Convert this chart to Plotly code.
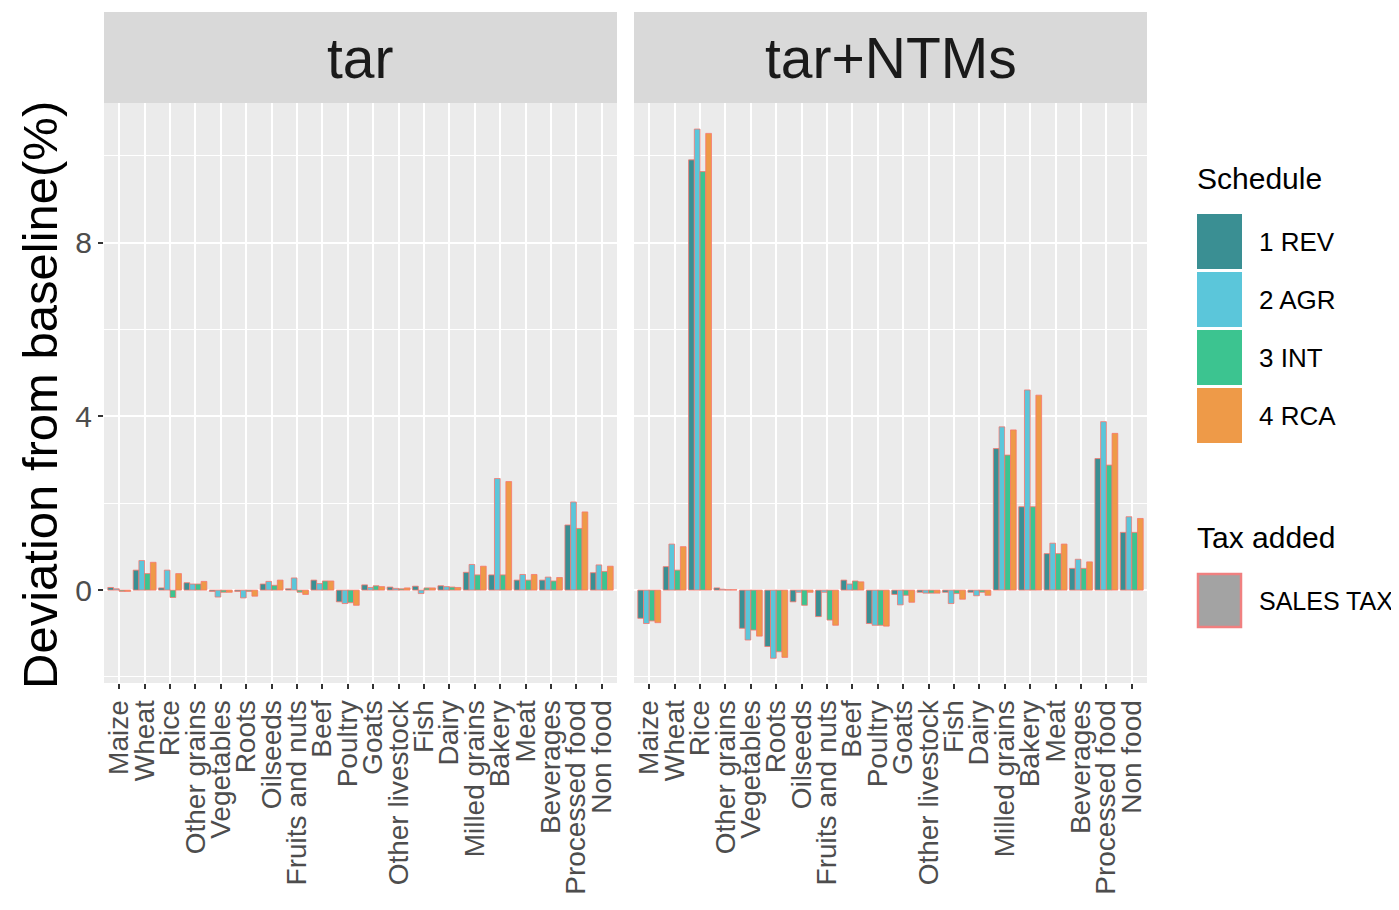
import plotly.graph_objects as go

# The page body has an 8px margin, so the figure is sized to the visible area
OFF = 8
W, H = 1399 - OFF, 910 - OFF

categories = ["Maize", "Wheat", "Rice", "Other grains", "Vegetables", "Roots", "Oilseeds",
              "Fruits and nuts", "Beef", "Poultry", "Goats", "Other livestock", "Fish", "Dairy",
              "Milled grains", "Bakery", "Meat", "Beverages", "Processed food", "Non food"]

schedules = ["1 REV", "2 AGR", "3 INT", "4 RCA"]
schedule_colors = ["#3A8F93", "#5BC6DA", "#3CC490", "#EE9A48"]
panels = ["tar", "tar+NTMs"]
tax_label = "SALES TAX"

# panel "tar"
tar_rev = [0.06, 0.46, 0.05, 0.17, -0.03, -0.03, 0.14, 0.03, 0.23, -0.27, 0.12, 0.07, 0.09, 0.10, 0.41, 0.35, 0.23, 0.23, 1.50, 0.40]
tar_agr = [0.03, 0.68, 0.46, 0.14, -0.16, -0.18, 0.20, 0.28, 0.15, -0.31, 0.06, 0.04, -0.08, 0.08, 0.59, 2.57, 0.36, 0.30, 2.03, 0.58]
tar_int = [-0.03, 0.38, -0.17, 0.14, -0.05, -0.03, 0.11, -0.05, 0.21, -0.29, 0.10, 0.03, 0.05, 0.07, 0.35, 0.35, 0.23, 0.21, 1.42, 0.43]
tar_rca = [-0.03, 0.64, 0.38, 0.20, -0.05, -0.14, 0.23, -0.10, 0.21, -0.35, 0.08, 0.05, 0.05, 0.06, 0.55, 2.50, 0.36, 0.29, 1.80, 0.55]

# panel "tar+NTMs"
ntm_rev = [-0.65, 0.54, 9.91, 0.05, -0.88, -1.30, -0.27, -0.61, 0.23, -0.77, -0.10, -0.05, -0.05, -0.05, 3.26, 1.92, 0.84, 0.50, 3.03, 1.33]
ntm_agr = [-0.77, 1.06, 10.62, 0.02, -1.15, -1.57, -0.05, -0.05, 0.14, -0.81, -0.34, -0.07, -0.31, -0.13, 3.76, 4.61, 1.08, 0.71, 3.88, 1.69]
ntm_int = [-0.71, 0.46, 9.64, 0.01, -0.92, -1.42, -0.35, -0.69, 0.21, -0.81, -0.12, -0.07, -0.08, -0.05, 3.11, 1.92, 0.84, 0.50, 2.88, 1.33]
ntm_rca = [-0.75, 1.00, 10.52, 0.01, -1.06, -1.55, -0.05, -0.81, 0.19, -0.83, -0.28, -0.07, -0.21, -0.12, 3.69, 4.49, 1.06, 0.65, 3.61, 1.65]

panel_data = [[tar_rev, tar_agr, tar_int, tar_rca], [ntm_rev, ntm_agr, ntm_int, ntm_rca]]

y_ticks = [0, 4, 8]
y_minor = [-2, 2, 6, 10]
y_range = [-2.14, 11.22]
y_title = "Deviation from baseline(%)"

FONT = "Liberation Sans, Arial, sans-serif"
OUTLINE = "#F8766D"


def px_x(p):
    return (p - OFF) / W


def px_y(p):
    return 1 - (p - OFF) / H


panel_px = [(104, 617), (634, 1147)]
plot_top, plot_bot = 103, 683
strip_top = 12

fig = go.Figure()
for pi, pdata in enumerate(panel_data):
    xa = "x" if pi == 0 else "x2"
    ya = "y" if pi == 0 else "y2"
    for si, vals in enumerate(pdata):
        fig.add_trace(go.Bar(
            x=categories, y=vals, name=schedules[si], xaxis=xa, yaxis=ya,
            marker=dict(color=schedule_colors[si], line=dict(color=OUTLINE, width=0.8)),
            offsetgroup=str(si), showlegend=False,
        ))

axis_common = dict(
    type="category", categoryorder="array", categoryarray=categories,
    tickmode="array", tickvals=categories, ticktext=categories,
    range=[-0.6, len(categories) - 0.4],
    showgrid=True, gridcolor="white", gridwidth=2,
    ticks="outside", ticklen=5, tickwidth=1.5, tickcolor="#333333",
    tickangle=-90, tickfont=dict(family=FONT, size=28, color="#4D4D4D"),
    showline=False, zeroline=False,
)

yaxis_common = dict(
    domain=[px_y(plot_bot), px_y(plot_top)],
    range=y_range, tickvals=y_ticks, ticktext=[str(v) for v in y_ticks],
    showgrid=True, gridcolor="white", gridwidth=2, zeroline=False,
    minor=dict(tickvals=y_minor, showgrid=True, gridcolor="white", gridwidth=1, ticks=""),
)

fig.update_layout(
    width=W, height=H,
    margin=dict(l=0, r=0, t=0, b=0),
    paper_bgcolor="white", plot_bgcolor="#EBEBEB",
    barmode="group", bargap=0.1, bargroupgap=0,
    xaxis=dict(domain=[px_x(panel_px[0][0]), px_x(panel_px[0][1])], anchor="y", **axis_common),
    xaxis2=dict(domain=[px_x(panel_px[1][0]), px_x(panel_px[1][1])], anchor="y2", **axis_common),
    yaxis=dict(anchor="x",
               ticks="outside", ticklen=5, tickwidth=1.5, tickcolor="#333333",
               tickfont=dict(family=FONT, size=30, color="#4D4D4D"),
               **yaxis_common),
    yaxis2=dict(anchor="x2", matches="y", showticklabels=False, ticks="", **yaxis_common),
    showlegend=False,
    font=dict(family=FONT),
)

shapes = []
annotations = []
# facet strips
for (x0, x1), label in zip(panel_px, panels):
    shapes.append(dict(type="rect", xref="paper", yref="paper",
                       x0=px_x(x0), x1=px_x(x1), y0=px_y(plot_top), y1=px_y(strip_top),
                       fillcolor="#D9D9D9", line=dict(width=0), layer="below"))
    annotations.append(dict(text=label, xref="paper", yref="paper",
                            x=px_x((x0 + x1) / 2), y=px_y(58), xanchor="center", yanchor="middle",
                            showarrow=False, font=dict(family=FONT, size=57, color="#1A1A1A")))

# y-axis title
annotations.append(dict(text=y_title, xref="paper", yref="paper", x=px_x(40), y=px_y(395),
                        xanchor="center", yanchor="middle", textangle=-90, showarrow=False,
                        font=dict(family=FONT, size=49, color="black")))

# legend: Schedule
kx0, kx1 = 1197, 1242
annotations.append(dict(text="Schedule", xref="paper", yref="paper", x=px_x(1195), y=px_y(178),
                        xanchor="left", yanchor="middle", showarrow=False,
                        font=dict(family=FONT, size=30, color="black")))
key_tops = [214, 272, 330, 388]
for si, top in enumerate(key_tops):
    shapes.append(dict(type="rect", xref="paper", yref="paper",
                       x0=px_x(kx0), x1=px_x(kx1), y0=px_y(top + 55), y1=px_y(top),
                       fillcolor=schedule_colors[si], line=dict(width=0)))
    annotations.append(dict(text=schedules[si], xref="paper", yref="paper", x=px_x(1257),
                            y=px_y(top + 28), xanchor="left", yanchor="middle", showarrow=False,
                            font=dict(family=FONT, size=26, color="black")))

# legend: Tax added
annotations.append(dict(text="Tax added", xref="paper", yref="paper", x=px_x(1195), y=px_y(537),
                        xanchor="left", yanchor="middle", showarrow=False,
                        font=dict(family=FONT, size=30, color="black")))
shapes.append(dict(type="rect", xref="paper", yref="paper",
                   x0=px_x(kx0 + 1), x1=px_x(kx1 - 1), y0=px_y(627), y1=px_y(574),
                   fillcolor="#A3A3A3", line=dict(color="#F08080", width=2.5)))
annotations.append(dict(text=tax_label, xref="paper", yref="paper", x=px_x(1257), y=px_y(601),
                        xanchor="left", yanchor="middle", showarrow=False,
                        font=dict(family=FONT, size=25, color="black")))

fig.update_layout(shapes=shapes, annotations=annotations)
fig.write_html("out.html")
